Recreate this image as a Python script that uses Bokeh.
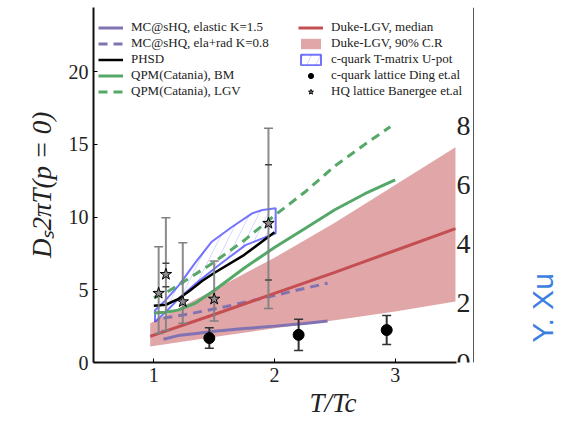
import numpy as np
from bokeh.plotting import figure
from bokeh.models import Range1d, LinearAxis, Label, Legend, LegendItem, FixedTicker
from bokeh.embed import file_html
from bokeh.resources import INLINE

# ---------------- data ----------------
mc_el_x = [1.08, 1.2, 1.35, 1.5, 1.75, 2.0, 2.25, 2.44]
mc_el_y = [1.6, 1.85, 2.0, 2.15, 2.33, 2.5, 2.68, 2.85]

mc_rad_x = [1.08, 1.3, 1.6, 2.0, 2.2, 2.44]
mc_rad_y = [3.05, 3.35, 3.85, 4.6, 5.0, 5.45]

phsd_x = [1.0, 1.1, 1.2, 1.3, 1.4, 1.5, 1.75, 2.0]
phsd_y = [3.9, 3.97, 4.35, 4.95, 5.6, 6.15, 7.4, 8.95]

qbm_x = [1.0, 1.1, 1.2, 1.35, 1.5, 1.75, 2.0, 2.25, 2.5, 2.75, 3.0]
qbm_y = [3.4, 3.45, 3.6, 4.1, 4.95, 6.5, 7.9, 9.2, 10.5, 11.6, 12.55]

qlgv_x = [1.0, 1.1, 1.2, 1.35, 1.5, 1.75, 2.0, 2.25, 2.5, 2.75, 2.96]
qlgv_y = [4.45, 4.8, 5.3, 6.1, 6.9, 8.4, 10.1, 11.7, 13.5, 15.0, 16.2]

duke_x = [0.97, 1.5, 2.0, 2.5, 3.0, 3.5]
duke_med = [1.8, 3.3, 4.75, 6.2, 7.7, 9.2]
duke_lo = [1.1, 1.75, 2.35, 2.9, 3.5, 4.2]
duke_hi = [2.7, 5.0, 7.2, 9.6, 12.2, 14.8]

tm_x_up = [1.01, 1.1, 1.21, 1.35, 1.48, 1.65, 1.815, 1.9, 2.01]
tm_y_up = [3.6, 4.3, 5.33, 6.93, 8.3, 9.33, 10.25, 10.48, 10.6]
tm_x_lo = [1.01, 1.1, 1.21, 1.35, 1.54, 1.76, 2.01]
tm_y_lo = [2.8, 3.49, 4.41, 5.44, 6.7, 8.07, 8.88]

ding_x = [1.46, 2.20, 2.93]
ding_y = [1.68, 1.90, 2.23]
ding_err = [0.7, 1.08, 1.0]

ban_x = [1.04, 1.10, 1.24, 1.50, 1.95]
ban_y = [4.76, 6.06, 4.18, 4.36, 9.57]
ban_lo = [2.0, 2.2, 2.69, 2.85, 3.72]
ban_hi = [7.96, 9.95, 8.23, 6.97, 16.1]
ban_in_x = [1.10, 1.95]
ban_in_lo = [5.2, 5.67]
ban_in_hi = [6.82, 13.6]

x_ticks = [1, 2, 3]
y_ticks = [0, 5, 10, 15, 20]
r_ticks = [0, 2, 4, 6, 8]

# ---------------- colours ----------------
PURPLE = "#8172b2"
GREEN = "#55a868"
RED = "#c44e52"
SERIF = "Liberation Serif"

p = figure(width=572, height=426, x_range=Range1d(0.5, 4.47), y_range=Range1d(0, 24.4),
           output_backend="svg", toolbar_location=None,
           min_border_left=93, min_border_right=0, min_border_top=7, min_border_bottom=64,
           x_axis_type=None, y_axis_type=None)
p.outline_line_color = None
p.background_fill_color = "white"
p.extra_y_ranges = {"r": Range1d(0, 12.0)}

# axes
xaxis = LinearAxis(ticker=FixedTicker(ticks=x_ticks), bounds=(0.5, 3.51))
xaxis.axis_label = "T/Tc"
p.add_layout(xaxis, "below")
yaxis = LinearAxis(ticker=FixedTicker(ticks=y_ticks))
yaxis.axis_label = "Dₛ2πT(p = 0)"
p.add_layout(yaxis, "left")
raxis = LinearAxis(y_range_name="r", ticker=FixedTicker(ticks=r_ticks), fixed_location=3.65)
p.add_layout(raxis, "left")

for ax in (xaxis, yaxis):
    ax.axis_line_width = 2
    ax.axis_line_color = "#111111"
    ax.major_tick_in = 4
    ax.major_tick_out = 0
    ax.minor_tick_line_color = None
    ax.major_label_text_font = SERIF
    ax.major_label_text_font_size = "20px"
    ax.major_label_text_color = "#222222"
    ax.major_label_standoff = 5
    ax.axis_label_text_font = SERIF
    ax.axis_label_text_font_style = "italic"
    ax.axis_label_text_font_size = "27px"
    ax.axis_label_text_color = "#222222"
xaxis.axis_label_standoff = 3
yaxis.axis_label_standoff = 9

raxis.axis_line_width = 1
raxis.axis_line_color = "#555555"
raxis.major_tick_in = 0
raxis.major_tick_out = 0
raxis.minor_tick_line_color = None
raxis.major_label_text_font = SERIF
raxis.major_label_text_font_size = "28px"
raxis.major_label_text_color = "#222222"
raxis.major_label_standoff = 3

# glyphs
r_band = p.varea(x=duke_x, y1=duke_lo, y2=duke_hi, fill_color=RED, fill_alpha=0.5)
tm_xs = tm_x_up + tm_x_lo[::-1]
tm_ys = tm_y_up + tm_y_lo[::-1]
r_tm = p.patch(tm_xs, tm_ys, fill_color=None, line_color="blue", line_alpha=0.55, line_width=2,
               hatch_pattern="/", hatch_color="blue", hatch_alpha=0.25, hatch_weight=0.6, hatch_scale=18)

r_el = p.line(mc_el_x, mc_el_y, line_color=PURPLE, line_width=3)
r_rad = p.line(mc_rad_x, mc_rad_y, line_color=PURPLE, line_width=3, line_dash="9 6")
r_phsd = p.line(phsd_x, phsd_y, line_color="black", line_width=2.5)
r_qbm = p.line(qbm_x, qbm_y, line_color=GREEN, line_width=3)
r_qlgv = p.line(qlgv_x, qlgv_y, line_color=GREEN, line_width=3, line_dash="9 6")
r_med = p.line(duke_x, duke_med, line_color=RED, line_width=3)

# Banerjee error bars
p.segment(x0=ban_x, x1=ban_x, y0=ban_lo, y1=ban_hi, line_color="gray", line_width=2, line_alpha=0.9)
p.scatter(ban_x + ban_x, ban_lo + ban_hi, marker="dash", size=9, line_color="gray", line_width=1.5)
p.scatter(ban_in_x + ban_in_x, ban_in_lo + ban_in_hi, marker="dash", size=7, line_color="#444444", line_width=1.5)

# Ding error bars
ding_lo = [y - e for y, e in zip(ding_y, ding_err)]
ding_hi = [y + e for y, e in zip(ding_y, ding_err)]
p.segment(x0=ding_x, x1=ding_x, y0=ding_lo, y1=ding_hi, line_color="#333333", line_width=2)
p.scatter(ding_x + ding_x, ding_lo + ding_hi, marker="dash", size=9, line_color="#333333", line_width=1.5)
r_ding = p.scatter(ding_x, ding_y, marker="circle", size=11, fill_color="black", line_color="black")
r_ban = p.scatter(ban_x, ban_y, marker="star", size=12, fill_color="#8c8c8c", line_color="black", line_width=1)

# legends
def mk_legend(items, loc):
    lg = Legend(items=items, location=loc)
    lg.background_fill_alpha = 0
    lg.border_line_color = None
    lg.padding = 0
    lg.margin = 0
    lg.spacing = 0
    lg.glyph_width = 25
    lg.glyph_height = 13
    lg.label_height = 13
    lg.label_standoff = 8
    lg.label_text_font = SERIF
    lg.label_text_font_size = "13px"
    lg.label_text_color = "#222222"
    return lg

leg1 = mk_legend([
    LegendItem(label="MC@sHQ, elastic K=1.5", renderers=[r_el]),
    LegendItem(label="MC@sHQ, ela+rad K=0.8", renderers=[r_rad]),
    LegendItem(label="PHSD", renderers=[r_phsd]),
    LegendItem(label="QPM(Catania), BM", renderers=[r_qbm]),
    LegendItem(label="QPM(Catania), LGV", renderers=[r_qlgv]),
], (5, 263))
leg2 = mk_legend([
    LegendItem(label="Duke-LGV, median", renderers=[r_med]),
    LegendItem(label="Duke-LGV, 90% C.R", renderers=[r_band]),
    LegendItem(label="c-quark T-matrix U-pot", renderers=[r_tm]),
    LegendItem(label="c-quark lattice Ding et.al", renderers=[r_ding]),
    LegendItem(label="HQ lattice Banergee et.al", renderers=[r_ban]),
], (205, 263))
p.add_layout(leg1)
p.add_layout(leg2)

p.add_layout(Label(x=4.22, y=3.75, text="Y. Xu",
                   angle=90, angle_units="deg", text_align="center", text_baseline="middle",
                   text_color="#3d7fe0", text_font="Liberation Sans", text_font_size="30px"))

open("out.html", "w").write(file_html(p, INLINE))
